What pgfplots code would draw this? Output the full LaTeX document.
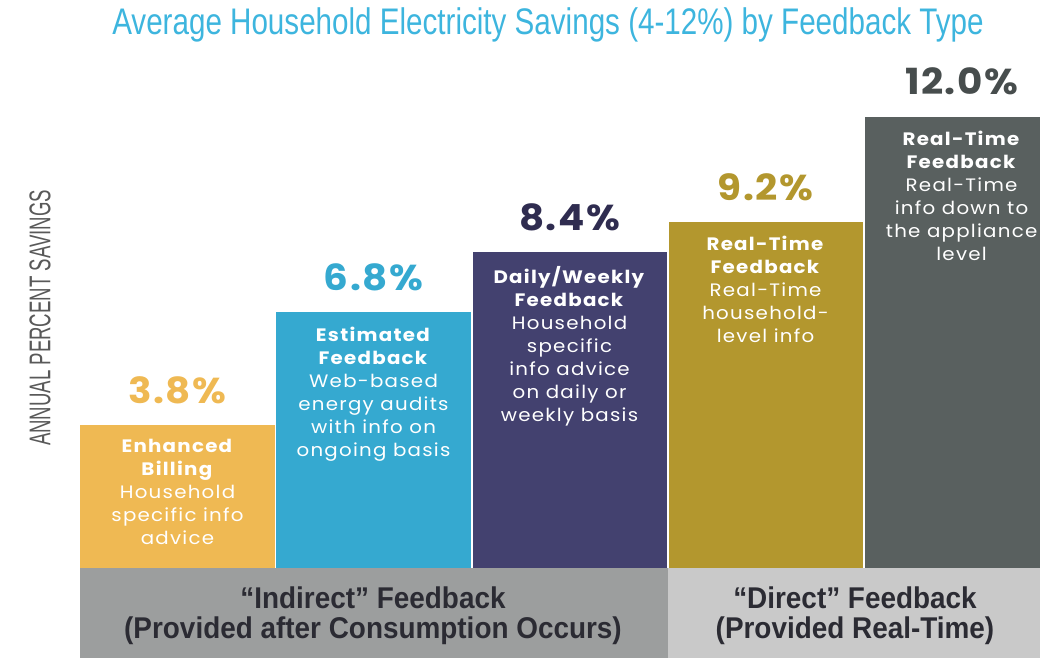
\documentclass[border=0pt]{standalone}
\usepackage{pgfplots}
\pgfplotsset{compat=1.18}
\usepackage{fontspec}
\setmainfont{Poppins}
\newfontfamily\barfont[FakeStretch=1.1,LetterSpace=7]{Poppins}
\newfontfamily\valfont[FakeStretch=1.08,LetterSpace=4]{Poppins}
\newfontfamily\titlefont[FakeStretch=0.8]{Liberation Sans}
\newfontfamily\labfont[FakeStretch=0.62]{Liberation Sans}
\newfontfamily\bandfont[FakeStretch=0.93]{Liberation Sans}
\definecolor{cA}{HTML}{EFB953}
\definecolor{cB}{HTML}{35A9D0}
\definecolor{cC}{HTML}{43416F}
\definecolor{cD}{HTML}{B3972E}
\definecolor{cE}{HTML}{59605F}
\definecolor{tC}{HTML}{2F2C50}
\definecolor{tE}{HTML}{474D4D}
\definecolor{bandA}{HTML}{9C9E9E}
\definecolor{bandB}{HTML}{C9C9C9}
\definecolor{titlec}{HTML}{3DB5DE}
\definecolor{bandtext}{HTML}{2B2B33}
\begin{document}
\begin{tikzpicture}
\useasboundingbox (0,0) rectangle (520pt,329pt);
\begin{axis}[
  at={(39.75pt,0pt)}, anchor=south west,
  width=480.25pt, height=329pt, scale only axis,
  xmin=-0.5, xmax=4.4, ymin=-2.39, ymax=15.1,
  hide axis,
  ybar, bar width=0.99, bar shift=0pt,
  nodes near coords={\pgfmathprintnumber[fixed,fixed zerofill,precision=1,assume math mode=true]{\pgfplotspointmeta}\%},
  every node near coord/.append style={anchor=center, yshift=17.5pt, font=\valfont\bfseries\fontsize{18}{20}\selectfont},
]
\fill[bandA] (axis cs:-0.5,-2.39) rectangle (axis cs:2.5,0);
\fill[bandB] (axis cs:2.5,-2.39) rectangle (axis cs:4.4,0);
\addplot[fill=cA, draw=none, every node near coord/.append style={text=cA}] coordinates {(0,3.8)};
\addplot[fill=cB, draw=none, every node near coord/.append style={text=cB}] coordinates {(1,6.8)};
\addplot[fill=cC, draw=none, every node near coord/.append style={text=tC}] coordinates {(2,8.4)};
\addplot[fill=cD, draw=none, every node near coord/.append style={text=cD}] coordinates {(3,9.2)};
\addplot[fill=cE, draw=none, every node near coord/.append style={text=tE}] coordinates {(4,12.0)};
\tikzset{bartext/.style={anchor=north, yshift=-7pt, align=center, text=white, inner sep=0pt, font=\barfont\fontsize{9}{11.5}\selectfont}}
\node[bartext] at (axis cs:0,3.8) {\textbf{Enhanced}\\\textbf{Billing}\\Household\\specific info\\advice};
\node[bartext] at (axis cs:1,6.8) {\textbf{Estimated}\\\textbf{Feedback}\\Web-based\\energy audits\\with info on\\ongoing basis};
\node[bartext] at (axis cs:2,8.4) {\textbf{Daily/Weekly}\\\textbf{Feedback}\\Household\\specific\\info advice\\on daily or\\weekly basis};
\node[bartext] at (axis cs:3,9.2) {\textbf{Real-Time}\\\textbf{Feedback}\\Real-Time\\household-\\level info};
\node[bartext] at (axis cs:4,12.0) {\textbf{Real-Time}\\\textbf{Feedback}\\Real-Time\\info down to\\the appliance\\level};
\end{axis}
\node[text=titlec, font=\titlefont\fontsize{18.5}{20}\selectfont] at (274pt,316.5pt) {Average Household Electricity Savings (4-12\%) by Feedback Type};
\node[text=black!65, rotate=90, font=\labfont\fontsize{15}{16}\selectfont] at (20pt,170pt) {ANNUAL PERCENT SAVINGS};
\node[align=center, text=bandtext, font=\bandfont\bfseries\fontsize{15}{15}\selectfont] at (186.5pt,21pt) {“Indirect” Feedback\\(Provided after Consumption Occurs)};
\node[align=center, text=bandtext, font=\bandfont\bfseries\fontsize{15}{15}\selectfont] at (427.5pt,21pt) {“Direct” Feedback\\(Provided Real-Time)};
\end{tikzpicture}
\end{document}
